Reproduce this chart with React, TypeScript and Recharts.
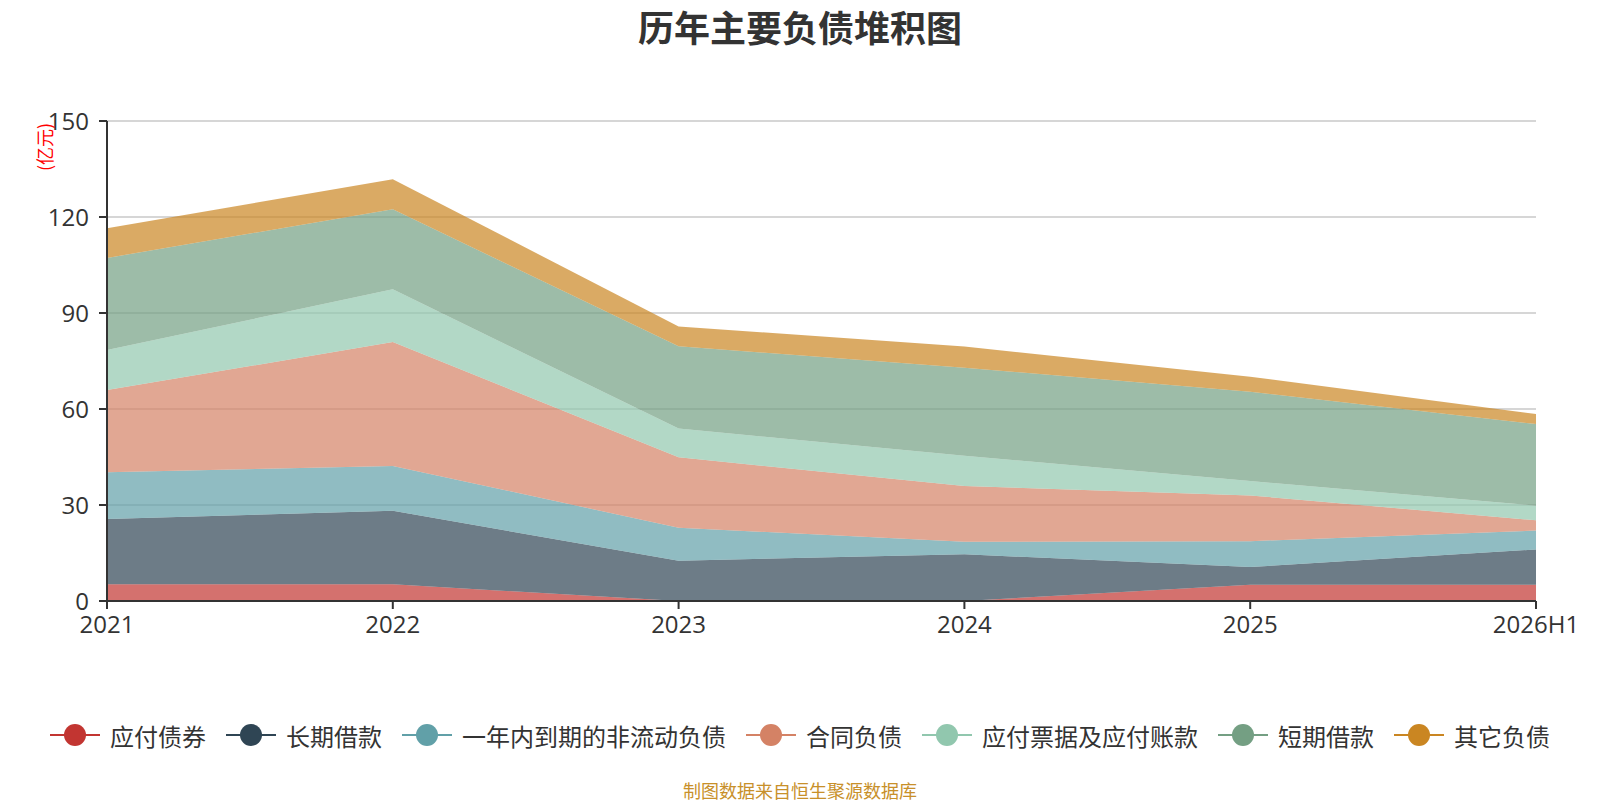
import { Area, AreaChart, CartesianGrid, Legend, XAxis, YAxis } from 'recharts';

// 年份
const years = ['2021', '2022', '2023', '2024', '2025', '2026H1'];

// 各项负债 (亿元)
const bondsPayable = [5.2, 5.2, 0, 0, 5.1, 5.1];
const longTermLoans = [20.4, 23.0, 12.6, 14.6, 5.5, 11.0];
const currentNonCurrent = [14.6, 14.0, 10.3, 3.9, 8.1, 5.9];
const contractLiabilities = [25.7, 38.7, 22.0, 17.4, 14.3, 3.2];
const notesAndAccountsPayable = [12.5, 16.5, 9.0, 9.5, 4.5, 4.6];
const shortTermLoans = [28.8, 25.0, 25.7, 27.5, 27.9, 25.5];
const otherLiabilities = [9.3, 9.4, 6.2, 6.6, 4.7, 3.1];

const yTicks = [0, 30, 60, 90, 120, 150];

const series = [
  { key: 'bonds', name: '应付债券', color: '#c23531', values: bondsPayable },
  { key: 'longLoans', name: '长期借款', color: '#2f4554', values: longTermLoans },
  { key: 'currentNc', name: '一年内到期的非流动负债', color: '#61a0a8', values: currentNonCurrent },
  { key: 'contract', name: '合同负债', color: '#d48265', values: contractLiabilities },
  { key: 'payables', name: '应付票据及应付账款', color: '#91c7ae', values: notesAndAccountsPayable },
  { key: 'shortLoans', name: '短期借款', color: '#749f83', values: shortTermLoans },
  { key: 'other', name: '其它负债', color: '#ca8622', values: otherLiabilities },
];

const chartData = years.map((year, i) => {
  const row: Record<string, string | number> = { year };
  series.forEach((s) => {
    row[s.key] = s.values[i];
  });
  return row;
});

const FONT = "'Open Sans', 'Noto Sans CJK SC', sans-serif";

function LegendContent() {
  return (
    <div
      style={{
        display: 'flex',
        justifyContent: 'center',
        alignItems: 'center',
        gap: 20,
        height: 40,
        fontFamily: "'Noto Sans CJK SC', sans-serif",
        fontSize: 24,
        color: '#333',
      }}
    >
      {series.map((s) => (
        <div key={s.key} style={{ display: 'flex', alignItems: 'center' }}>
          <svg width={50} height={24} style={{ marginRight: 10 }}>
            <line x1={0} y1={12} x2={50} y2={12} stroke={s.color} strokeWidth={2} />
            <circle cx={25} cy={12} r={11} fill={s.color} />
          </svg>
          <span style={{ whiteSpace: 'nowrap' }}>{s.name}</span>
        </div>
      ))}
    </div>
  );
}

function UnitLabel(props: any) {
  const { viewBox } = props;
  const x = viewBox.x + 44;
  const y = viewBox.y + 26;
  return (
    <text
      x={x}
      y={y}
      transform={`rotate(-90 ${x} ${y})`}
      textAnchor="middle"
      dominantBaseline="central"
      fill="#ff0000"
      fontSize={18}
      fontFamily="'Noto Sans CJK SC', sans-serif"
    >
      (亿元)
    </text>
  );
}

export default function App() {
  return (
    <div style={{ position: 'relative', width: 1600, height: 800, background: '#fff', fontFamily: FONT }}>
      <style>{'body{margin:0;}'}</style>
      <div
        style={{
          position: 'absolute',
          top: 0,
          left: 0,
          width: 1600,
          height: 52,
          lineHeight: '52px',
          textAlign: 'center',
          fontSize: 36,
          fontWeight: 'bold',
          color: '#333',
          fontFamily: "'Noto Sans CJK SC', sans-serif",
        }}
      >
        历年主要负债堆积图
      </div>
      <AreaChart
        width={1600}
        height={800}
        data={chartData}
        margin={{ top: 121, right: 64, left: 0, bottom: 149 }}
      >
        <CartesianGrid vertical={false} stroke="#c8c8c8" strokeWidth={1.5} />
        <XAxis
          dataKey="year"
          height={50}
          stroke="#333"
          strokeWidth={2}
          tickSize={8}
          tickMargin={7}
          tick={{ fill: '#333', fontSize: 24, fontFamily: FONT }}
          interval={0}
        />
        <YAxis
          width={107}
          domain={[0, 150]}
          ticks={yTicks}
          stroke="#333"
          strokeWidth={2}
          tickSize={8}
          tickMargin={10}
          tick={{ fill: '#333', fontSize: 24, fontFamily: FONT }}
          label={<UnitLabel />}
        />
        {series.map((s) => (
          <Area
            key={s.key}
            type="linear"
            dataKey={s.key}
            name={s.name}
            stackId="1"
            stroke="none"
            fill={s.color}
            fillOpacity={0.7}
            isAnimationActive={false}
            dot={false}
            activeDot={false}
          />
        ))}
        <Legend
          layout="horizontal"
          verticalAlign="middle"
          align="center"
          wrapperStyle={{ top: 715, left: 0, width: 1600, height: 40 }}
          content={<LegendContent />}
        />
      </AreaChart>
      <div
        style={{
          position: 'absolute',
          top: 778,
          left: 0,
          width: 1600,
          textAlign: 'center',
          fontSize: 18,
          lineHeight: '24px',
          color: '#c8902a',
          fontFamily: "'Noto Sans CJK SC', sans-serif",
        }}
      >
        制图数据来自恒生聚源数据库
      </div>
    </div>
  );
}
